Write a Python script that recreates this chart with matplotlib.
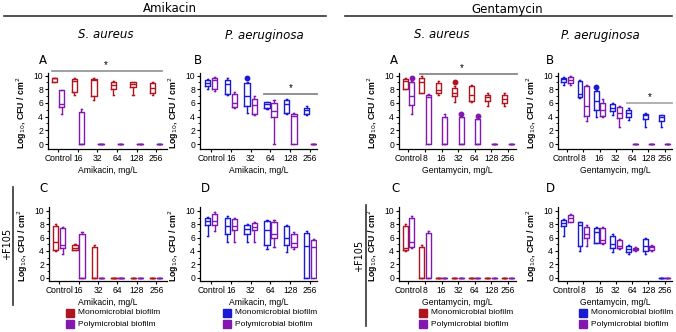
import matplotlib
matplotlib.use('Agg')
import matplotlib.pyplot as plt
from matplotlib.patches import Rectangle
from matplotlib.lines import Line2D

RED = '#b0141e'
PURPLE = '#8218b0'
BLUE = '#1a1ad2'

amik_groups = ['Control', '16', '32', '64', '128', '256']
gent_groups = ['Control', '8', '16', '32', '64', '128', '256']

Z = [0, 0, 0, 0, 0]

# each box: [whislo, q1, median, q3, whishi]
amik_sa_mono = [[9.0, 9.1, 9.6, 9.7, 9.7], [7.1, 7.6, 9.2, 9.5, 9.6], [6.4, 7.0, 9.4, 9.5, 9.6],
                [7.2, 8.1, 8.6, 9.0, 9.2], [7.2, 8.3, 8.8, 9.0, 9.0], [7.2, 7.5, 8.2, 8.9, 9.0]]
amik_sa_poly = [[4.4, 5.4, 5.9, 7.9, 7.9], [0, 0, 0, 4.7, 5.1], Z, Z, Z, Z]

amik_pa_mono = [[8.0, 8.4, 8.9, 9.3, 9.5], [7.2, 7.3, 8.7, 9.4, 9.6], [4.5, 5.5, 7.0, 8.9, 9.1],
                [5.1, 5.2, 5.9, 6.1, 6.2], [4.4, 4.5, 5.9, 6.4, 6.5], [4.2, 4.4, 4.9, 5.3, 5.5]]
amik_pa_poly = [[7.8, 8.0, 9.3, 9.6, 9.8], [5.3, 5.4, 6.0, 7.3, 7.6], [4.2, 4.4, 5.7, 6.6, 7.0],
                [0, 4.0, 4.8, 6.0, 6.4], [0, 0, 4.1, 4.4, 4.6], Z]

gent_sa_mono = [[8.0, 8.0, 9.2, 9.5, 9.6], [7.4, 7.5, 9.0, 9.7, 9.9], [7.2, 7.4, 7.9, 8.9, 9.2],
                [6.2, 7.0, 7.5, 8.2, 8.4], [6.2, 6.3, 7.2, 8.4, 8.6], [5.5, 6.3, 6.8, 7.2, 7.5],
                [5.6, 6.0, 6.5, 7.2, 7.5]]
gent_sa_poly = [[4.4, 5.7, 7.0, 9.0, 9.2], [0, 0, 6.9, 7.1, 7.3], [0, 0, 0, 4.0, 4.4],
                [0, 0, 0, 3.9, 4.0], [0, 0, 0, 3.6, 3.7], Z, Z]

gent_pa_mono = [[8.6, 9.1, 9.5, 9.7, 9.8], [6.7, 6.8, 7.3, 9.2, 9.4], [4.0, 5.0, 6.3, 7.7, 7.9],
                [4.3, 4.8, 5.3, 5.8, 6.0], [3.5, 4.0, 4.6, 5.0, 5.2], [2.5, 3.7, 4.2, 4.4, 4.5],
                [2.5, 3.3, 4.0, 4.2, 4.2]]
gent_pa_poly = [[8.6, 8.9, 9.4, 9.8, 9.9], [3.4, 4.1, 5.6, 8.4, 8.6], [3.9, 4.1, 4.9, 6.0, 6.6],
                [2.5, 3.8, 4.5, 5.4, 5.6], Z, Z, Z]

amik_sa_f_mono = [[4.0, 4.2, 5.4, 7.8, 8.1], [4.1, 4.2, 4.5, 4.9, 5.1], [0, 0, 0, 4.6, 4.9], Z, Z, Z]
amik_sa_f_poly = [[3.5, 4.5, 4.9, 7.5, 7.6], [0, 0, 0, 6.6, 6.8], Z, Z, Z, Z]

amik_pa_f_mono = [[6.2, 7.9, 8.5, 8.9, 9.1], [5.4, 6.6, 7.8, 8.9, 9.3], [5.4, 6.6, 7.3, 7.9, 8.0],
                  [4.3, 4.9, 7.1, 8.5, 8.6], [3.8, 4.9, 6.0, 7.8, 7.9], [0, 0, 4.8, 6.7, 7.0]]
amik_pa_f_poly = [[7.0, 7.9, 8.5, 9.6, 9.8], [5.4, 7.2, 7.8, 8.8, 8.9], [5.4, 7.2, 7.6, 8.2, 8.3],
                  [4.6, 5.9, 6.5, 8.4, 8.6], [4.3, 4.6, 5.2, 6.6, 6.8], [0, 0, 4.6, 5.7, 5.8]]

gent_sa_f_mono = [[4.0, 4.1, 4.5, 7.8, 8.0], [0, 0, 0, 4.6, 4.9], Z, Z, Z, Z, Z]
gent_sa_f_poly = [[4.5, 4.6, 5.3, 8.9, 9.2], [0, 0, 0, 6.7, 7.0], Z, Z, Z, Z, Z]

gent_pa_f_mono = [[6.2, 7.7, 8.2, 8.6, 8.8], [4.0, 4.8, 7.9, 8.3, 8.4], [5.2, 5.2, 6.9, 7.4, 7.6],
                  [3.9, 4.4, 5.0, 6.2, 6.5], [3.5, 3.9, 4.3, 4.8, 4.9], [3.5, 4.0, 4.7, 5.8, 5.9], Z]
gent_pa_f_poly = [[8.3, 8.4, 8.9, 9.4, 9.6], [4.7, 5.9, 6.5, 7.6, 7.9], [5.1, 5.2, 5.6, 7.4, 7.6],
                  [4.3, 4.4, 4.8, 5.6, 5.8], [4.0, 4.1, 4.3, 4.5, 4.6], [4.0, 4.1, 4.6, 4.8, 4.9], Z]

# outliers: group index -> value
amik_pa_mono_out = {2: 9.6}
gent_sa_mono_out = {3: 9.0}
gent_sa_poly_out = {0: 9.6, 3: 4.4, 4: 4.1}
gent_pa_mono_out = {2: 8.3}

W, H = 676, 332
fig = plt.figure(figsize=(W / 100, H / 100), dpi=100)
plt.rcParams['font.family'] = 'Liberation Sans'
SMALL = 6.2


def add_ax(x0, x1, ytop, ybot):
    return fig.add_axes([x0 / W, 1 - ybot / H, (x1 - x0) / W, (ybot - ytop) / H])


def stats(rows, outs):
    res = []
    for i, r in enumerate(rows):
        fl = [outs[i]] if i in outs else []
        res.append(dict(whislo=r[0], q1=r[1], med=r[2], q3=r[3], whishi=r[4], fliers=fl))
    return res


def draw_panel(ax, groups, mono, poly, c1, c2, xl, yl, xlabel, out1={}, out2={}, off=0.18, w=0.27):
    n = len(groups)
    for rows, outs, c, sgn in [(mono, out1, c1, -1), (poly, out2, c2, 1)]:
        lp = dict(color=c, lw=1.0)
        ax.bxp(stats(rows, outs), positions=[i + sgn * off for i in range(n)], widths=w,
               boxprops=lp, medianprops=lp, whiskerprops=lp,
               capprops=dict(color=c, lw=1.0), capwidths=0.06,
               flierprops=dict(marker='o', markerfacecolor=c, markeredgecolor=c, markersize=3.2),
               manage_ticks=False)
    ax.set_xlim(*xl)
    ax.set_ylim(*yl)
    ax.set_xticks(range(n))
    ax.set_xticklabels(groups)
    ax.set_yticks([0, 2, 4, 6, 8, 10])
    ax.set_yticks([1, 3, 5, 7, 9], minor=True)
    ax.tick_params(labelsize=SMALL, length=2, width=0.8, pad=1.5)
    ax.tick_params(which='minor', length=1.2, width=0.6)
    for s in ['top', 'right']:
        ax.spines[s].set_visible(False)
    for s in ['left', 'bottom']:
        ax.spines[s].set_linewidth(0.9)
    ax.set_ylabel('Log$_{10}$, CFU / cm$^2$', fontsize=6.3, fontweight='bold')
    ax.yaxis.set_label_coords(-19 / (ax.get_position().width * W), 0.47)
    ax.set_xlabel(xlabel, fontsize=SMALL, labelpad=2)


def sig(ax, x0, x1, y, xs, color='#999999'):
    ax.add_line(Line2D([x0, x1], [y, y], color=color, lw=1.3, clip_on=False))
    ax.text(xs, y + 0.15, '*', ha='center', va='bottom', fontsize=7, clip_on=False)


amik_xl = (-0.52, 5.55)
gent_xl = (-0.57, 6.5)
top_yl = (-0.73, 10.37)
bot_yl = (-0.5, 10.6)

axA = add_ax(48, 167, 73, 149)
draw_panel(axA, amik_groups, amik_sa_mono, amik_sa_poly, RED, PURPLE, amik_xl, top_yl, 'Amikacin, mg/L')
sig(axA, -0.3, 5.3, 10.65, 2.45)

axB = add_ax(200, 317, 73, 149)
draw_panel(axB, amik_groups, amik_pa_mono, amik_pa_poly, BLUE, PURPLE, (-0.56, 5.35), top_yl, 'Amikacin, mg/L',
           out1=amik_pa_mono_out)
sig(axB, 2.68, 5.35, 7.35, 4.0, color='#888888')

axGA = add_ax(399, 516, 73, 149)
draw_panel(axGA, gent_groups, gent_sa_mono, gent_sa_poly, RED, PURPLE, gent_xl, top_yl, 'Gentamycin, mg/L',
           out1=gent_sa_mono_out, out2=gent_sa_poly_out, off=0.2, w=0.3)
sig(axGA, 0.7, 6.55, 10.25, 3.2, color='#888888')

axGB = add_ax(558, 672, 73, 149)
draw_panel(axGB, gent_groups, gent_pa_mono, gent_pa_poly, BLUE, PURPLE, (-0.55, 6.45), top_yl, 'Gentamycin, mg/L',
           out1=gent_pa_mono_out, off=0.2, w=0.3)
sig(axGB, 3.7, 6.48, 6.0, 5.1, color='#aaaaaa')

axC = add_ax(49, 167, 207, 281)
draw_panel(axC, amik_groups, amik_sa_f_mono, amik_sa_f_poly, RED, PURPLE, amik_xl, bot_yl, 'Amikacin, mg/L')

axD = add_ax(200, 317, 207, 281)
draw_panel(axD, amik_groups, amik_pa_f_mono, amik_pa_f_poly, BLUE, PURPLE, (-0.56, 5.35), bot_yl, 'Amikacin, mg/L')

axGC = add_ax(399, 516, 207, 281)
draw_panel(axGC, gent_groups, gent_sa_f_mono, gent_sa_f_poly, RED, PURPLE, gent_xl, bot_yl, 'Gentamycin, mg/L',
           off=0.2, w=0.3)

axGD = add_ax(558, 672, 207, 281)
draw_panel(axGD, gent_groups, gent_pa_f_mono, gent_pa_f_poly, BLUE, PURPLE, (-0.55, 6.45), bot_yl, 'Gentamycin, mg/L',
           off=0.2, w=0.3)


def ftext(x, y, s, **kw):
    fig.text(x / W, 1 - y / H, s, ha='center', va='center', **kw)


def fline(x0, y0, x1, y1):
    fig.add_artist(Line2D([x0 / W, x1 / W], [1 - y0 / H, 1 - y1 / H], color='#333333', lw=1.2,
                          transform=fig.transFigure))


# headers
ftext(170, 9, 'Amikacin', fontsize=8.5, family='DejaVu Sans')
ftext(507, 9, 'Gentamycin', fontsize=8.5, family='DejaVu Sans')
fline(4, 16, 326, 16)
fline(345, 16, 672, 16)
for x, s in [(106, 'S. aureus'), (264, 'P. aeruginosa'), (442, 'S. aureus'), (600, 'P. aeruginosa')]:
    ftext(x, 35, s, fontsize=8.5, style='italic', family='DejaVu Sans')
for x, y, s in [(43, 60, 'A'), (198, 60, 'B'), (394, 60, 'A'), (550, 60, 'B'),
                (43, 188, 'C'), (205, 188, 'D'), (395, 188, 'C'), (550, 188, 'D')]:
    ftext(x, y, s, fontsize=8.5, family='DejaVu Sans')

# +F105 side labels
fline(13, 187, 13, 305)
ftext(7, 244, '+F105', fontsize=7, rotation=90, family='DejaVu Sans')
fline(366, 205, 366, 326)
ftext(359, 256, '+F105', fontsize=7, rotation=90, family='DejaVu Sans')

# legends
for sx, c_top in [(66, RED), (223, BLUE), (419, RED), (579, BLUE)]:
    for y, c, s in [(313, c_top, 'Monomicrobial biofilm'), (324, PURPLE, 'Polymicrobial biofilm')]:
        fig.add_artist(Rectangle((sx / W, 1 - (y + 4) / H), 8 / W, 8 / H, color=c,
                                 transform=fig.transFigure))
        fig.text((sx + 12) / W, 1 - y / H, s, ha='left', va='center', fontsize=6.0)

fig.savefig('out.png', dpi=100)
